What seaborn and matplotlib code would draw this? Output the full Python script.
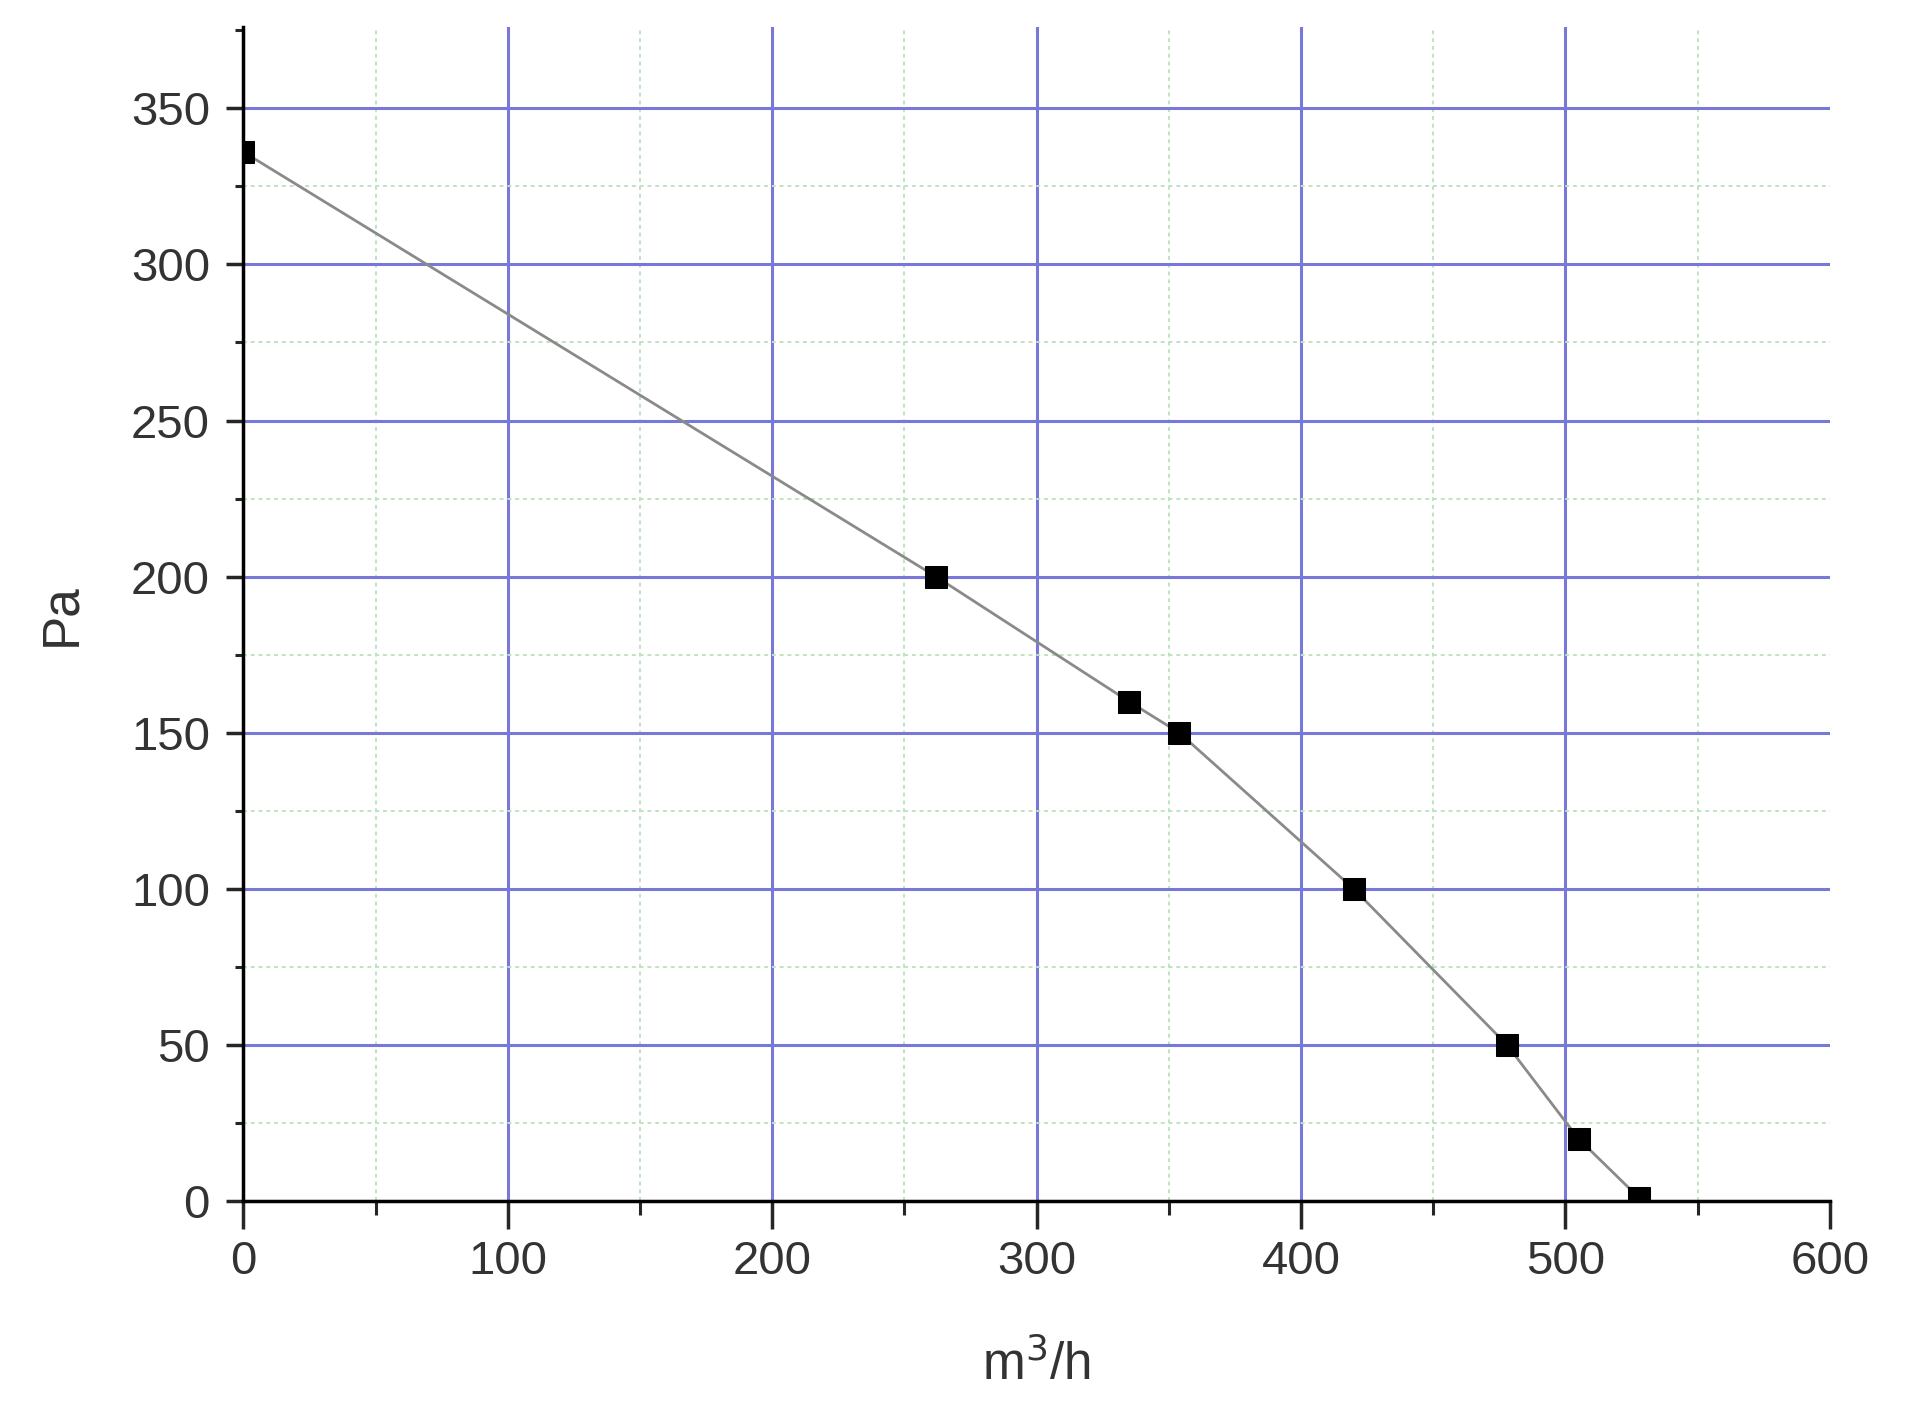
import numpy as np
import pandas as pd
import matplotlib
matplotlib.use('Agg')
import matplotlib.pyplot as plt
from matplotlib.ticker import MultipleLocator
import seaborn as sns

# Fan curve data
flow = [0, 262, 335, 354, 420, 478, 505, 528]
pressure = [336, 200, 160, 150, 100, 50, 20, 1]

df = pd.DataFrame({'flow': flow, 'pressure': pressure})

sns.set_style('white')
plt.rcParams['font.family'] = ['Liberation Sans', 'DejaVu Sans']

fig = plt.figure(figsize=(19.16, 14.2), dpi=100)
ax = fig.add_axes([0.127, 0.154, 0.828, 0.827])

sns.lineplot(data=df, x='flow', y='pressure', ax=ax, color='#8a8a8a', lw=2,
             marker='s', markersize=16, markerfacecolor='black',
             markeredgecolor='black', zorder=3)

ax.set_xlim(0, 600)
ax.set_ylim(0, 376)
ax.xaxis.set_major_locator(MultipleLocator(100))
ax.xaxis.set_minor_locator(MultipleLocator(50))
ax.yaxis.set_major_locator(MultipleLocator(50))
ax.yaxis.set_minor_locator(MultipleLocator(25))

# grids
ax.grid(which='major', color='#7878d8', lw=2.2)
ax.grid(which='minor', color='#bfe3bf', lw=1.4, ls=(0, (2, 2)))
ax.set_axisbelow(True)

for s in ['top', 'right']:
    ax.spines[s].set_visible(False)
for s in ['left', 'bottom']:
    ax.spines[s].set_color('black')
    ax.spines[s].set_linewidth(2.5)

ax.tick_params(axis='x', which='major', direction='out', length=20, width=2.5,
               labelsize=34, labelcolor='#333333', pad=8, bottom=True)
ax.tick_params(axis='x', which='minor', direction='out', length=10, width=2.2, bottom=True)
ax.tick_params(axis='y', which='major', direction='out', length=12, width=2.5,
               labelsize=34, labelcolor='#333333', pad=12, left=True)
ax.tick_params(axis='y', which='minor', direction='out', length=6, width=2.2, left=True)

ax.set_xlabel('m$^3$/h', fontsize=37, color='#333333', labelpad=40)
ax.set_ylabel('Pa', fontsize=37, color='#333333', labelpad=32)

# no grid lines at the right / top ends
fig.canvas.draw()
for t, loc in zip(ax.xaxis.get_major_ticks(), ax.get_xticks()):
    if loc >= 600:
        t.gridline.set_visible(False)
for t, loc in zip(ax.yaxis.get_minor_ticks(), ax.yaxis.get_minorticklocs()):
    if loc >= 375:
        t.gridline.set_visible(False)

plt.savefig('out.png', dpi=100)
plt.close()
